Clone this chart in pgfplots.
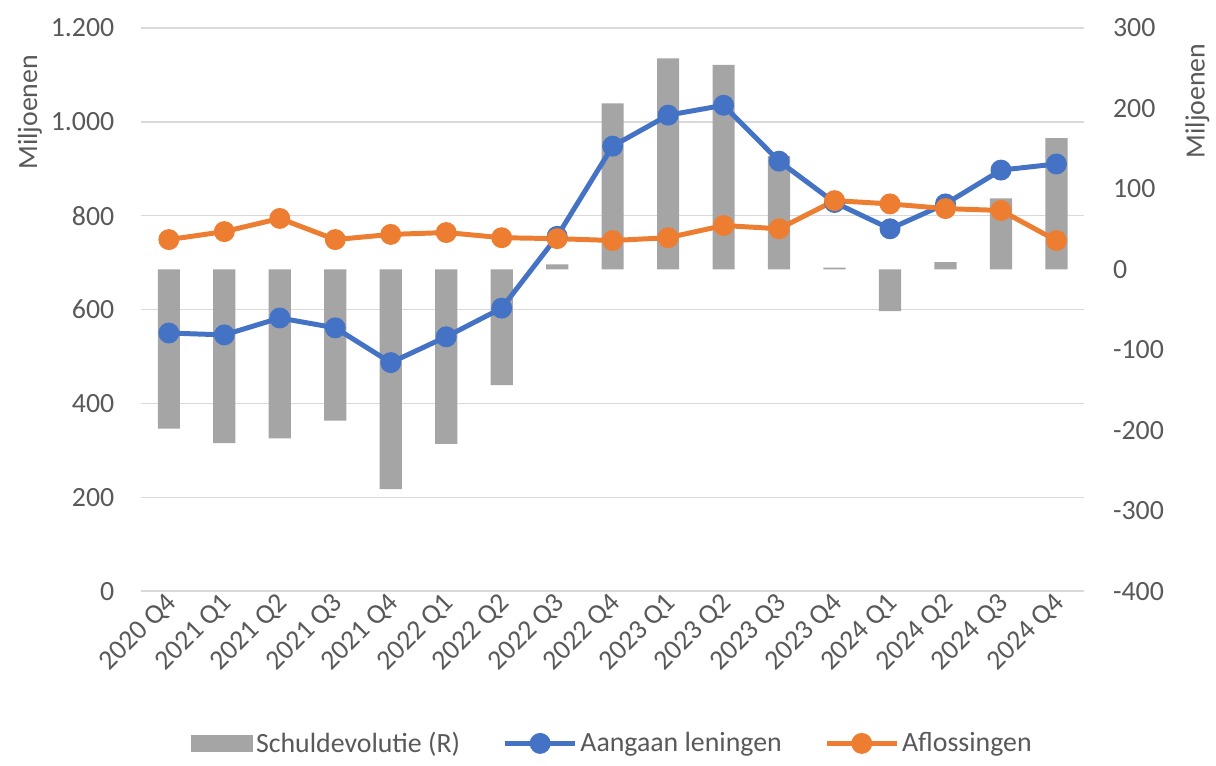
\documentclass[border=0pt]{standalone}
\usepackage{pgfplots}
\pgfplotsset{compat=1.18}
\usepackage{fontspec}
\setmainfont{Carlito}

\definecolor{textgray}{HTML}{595959}
\definecolor{gridgray}{HTML}{D9D9D9}
\definecolor{bargray}{HTML}{A5A5A5}
\definecolor{xlblue}{HTML}{4472C4}
\definecolor{xlorange}{HTML}{ED7D31}

\pgfplotsset{
  base/.style={
    width=474.5pt, height=283.5pt, scale only axis,
    xmin=-0.5, xmax=16.5,
    font=\fontsize{14}{16}\selectfont,
    tick label style={text=textgray},
    axis line style={draw=none},
    major tick length=0pt,
    /pgf/number format/1000 sep={.},
    /pgf/number format/assume math mode=true,
  },
  lineleg/.style={legend image code/.code={
    \draw[##1] (0pt,0pt) -- (35pt,0pt);
    \fill[##1] (17.5pt,0pt) circle (4pt);}},
}

\begin{document}
\begin{tikzpicture}
% grid + left axis labels
\begin{axis}[base, name=a,
    ymin=0, ymax=1200, ytick={0,200,...,1200},
    ymajorgrids, grid style={gridgray, line width=0.8pt},
    xtick={0,...,16},
    xticklabels={2020 Q4,2021 Q1,2021 Q2,2021 Q3,2021 Q4,2022 Q1,2022 Q2,2022 Q3,2022 Q4,2023 Q1,2023 Q2,2023 Q3,2023 Q4,2024 Q1,2024 Q2,2024 Q3,2024 Q4},
    xticklabel style={rotate=45, anchor=east, yshift=-4pt, xshift=2pt},
    yticklabel style={xshift=-10pt},
    ylabel={Miljoenen},
    every axis y label/.style={at={(axis description cs:-0.118,0.85)}, rotate=90, anchor=center, text=textgray},
  ]
\end{axis}
% bars on right axis
\begin{axis}[base,
    ymin=-400, ymax=300, ytick={-400,-300,...,300},
    axis y line*=right, axis x line=none, xtick=\empty,
    yticklabel style={xshift=11pt},
    ylabel={Miljoenen},
    every axis y label/.style={at={(axis description cs:1.12,0.87)}, rotate=90, anchor=center, text=textgray},
  ]
\addplot[ybar, bar width=0.4, fill=bargray, draw=none] coordinates {
  (0,-198) (1,-216) (2,-210) (3,-188) (4,-273) (5,-217) (6,-144) (7,6)
  (8,206) (9,262) (10,254) (11,141) (12,2) (13,-52) (14,9) (15,88) (16,163)
};
\end{axis}
% lines on left axis
\begin{axis}[base, hide axis,
    ymin=0, ymax=1200,
    legend columns=3,
    legend style={at={(axis description cs:0.5,-0.27)}, anchor=center,
      draw=none, fill=none, text=textgray,
      nodes={inner xsep=1.5pt},
      /tikz/every even column/.append style={column sep=20pt}},
  ]
\addlegendimage{legend image code/.code={\fill[bargray] (0pt,-4.25pt) rectangle (31pt,4.25pt);}}
\addlegendentry{Schuldevolutie (R)}
\addplot[xlblue, line width=2.5pt, mark=*, mark size=4pt, mark options={fill=xlblue, draw=xlblue}, lineleg] coordinates {
  (0,550) (1,546) (2,582) (3,561) (4,487) (5,542) (6,603) (7,756)
  (8,948) (9,1014) (10,1035) (11,916) (12,828) (13,772) (14,825) (15,897) (16,910)
};
\addlegendentry{Aangaan leningen}
\addplot[xlorange, line width=2.5pt, mark=*, mark size=4pt, mark options={fill=xlorange, draw=xlorange}, lineleg] coordinates {
  (0,749) (1,766) (2,794) (3,749) (4,760) (5,764) (6,753) (7,751)
  (8,747) (9,753) (10,779) (11,772) (12,832) (13,825) (14,815) (15,811) (16,747)
};
\addlegendentry{Aflossingen}
\end{axis}
\path ([shift={(-71pt,-87.5pt)}]a.south west) rectangle ([shift={(62.5pt,14pt)}]a.north east);
\end{tikzpicture}
\end{document}
